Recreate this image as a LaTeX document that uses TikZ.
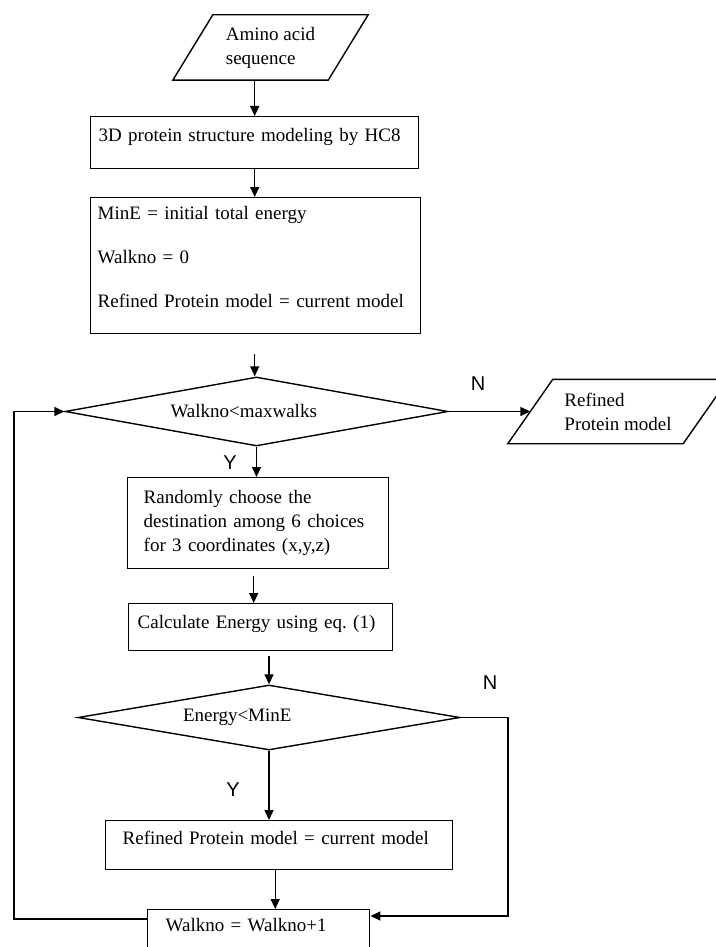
\documentclass[tikz,border=0pt]{standalone}
\usepackage{fontspec}
\setmainfont{Liberation Serif}
\newfontfamily\ynfont{Liberation Sans}
\usetikzlibrary{arrows.meta,shapes.geometric}
\frenchspacing

\begin{document}
\begin{tikzpicture}[x=1pt,y=-1pt,
  every node/.style={font=\fontsize{19}{24}\selectfont},
  procbox/.style={draw,rectangle,line width=1.4pt,anchor=north west,align=left,inner ysep=0pt},
  decision/.style={draw,diamond,line width=1.4pt,inner sep=0pt,text width=172pt,align=left},
  iobox/.style={rectangle,inner sep=0pt,align=left},
  ioline/.style={line width=1.4pt,line join=miter},
  yn/.style={font=\ynfont\fontsize{20}{24}\selectfont},
  arr/.style={-{Triangle[length=10pt,width=9pt]},line width=1.4pt}]
\useasboundingbox (0,0) rectangle (715,947);

\node[iobox,minimum width=155pt,minimum height=65pt] (amino) at (270.5,47.5) {Amino acid\\sequence};
\draw[ioline] ([xshift=20pt]amino.north west) -- ([xshift=20pt]amino.north east) -- ([xshift=-20pt]amino.south east) -- ([xshift=-20pt]amino.south west) -- cycle;

\node[procbox,inner xsep=8pt,text width=312pt,text height=25pt,text depth=27pt] (hc) at (90,116) {3D protein structure modeling by HC8};
\node[procbox,inner xsep=7pt,text width=316pt,text height=22pt,text depth=114pt] (init) at (90,197) {MinE = initial total energy\\[20pt]Walkno = 0\\[20pt]Refined Protein model = current model};

\node[decision,minimum width=383pt,minimum height=69pt,aspect=5.55] (walkno) at (256.5,411.5) {Walkno<maxwalks};
\node[yn] (n1) at (478,384) {N};
\node[iobox,minimum width=175pt,minimum height=64pt] (refout) at (618,411.5) {Refined\\Protein model};
\draw[ioline] ([xshift=22.5pt]refout.north west) -- ([xshift=22.5pt]refout.north east) -- ([xshift=-22.5pt]refout.south east) -- ([xshift=-22.5pt]refout.south west) -- cycle;
\node[yn] (y1) at (230,463) {Y};

\node[procbox,inner xsep=16pt,text width=229pt,text height=26pt,text depth=65pt] (rand) at (127,477) {Randomly choose the\\destination among 6 choices\\for 3 coordinates (x,y,z)};
\node[procbox,inner xsep=9pt,text width=246pt,text height=25pt,text depth=22pt] (calc) at (128,603) {Calculate Energy using eq. (1)};

\node[decision,minimum width=382pt,minimum height=65pt,aspect=5.88] (energy) at (269,717.5) {Energy<MinE};
\node[yn] (n2) at (490,683) {N};
\node[yn] (y2) at (233,790) {Y};

\node[procbox,inner xsep=17pt,text width=313pt,text height=24pt,text depth=25pt] (update) at (105,820) {Refined Protein model = current model};
\node[procbox,inner xsep=18pt,text width=186pt,text height=22pt,text depth=27pt] (walkinc) at (147,909) {Walkno = Walkno+1};

\coordinate (nturn) at (508,916);
\coordinate (loopturn) at (14,919);

\draw[arr] (amino.south -| hc.north) -- (hc.north);
\draw[arr] (hc.south) -- (init.north -| hc.south);
\draw[arr,shorten <=20pt] (init.south -| hc.south) -- (walkno.north -| hc.south);
\draw[arr] (walkno.east) -- (refout.west);
\draw[arr] (walkno.south) -- (walkno.south |- rand.north);
\draw[arr,shorten <=7pt] ([xshift=-4.5pt]rand.south) -- ([xshift=-4.5pt]rand.south |- calc.north);
\draw[arr,shorten <=5pt] (calc.south -| energy.north) -- (energy.north);
\draw[arr] (energy.south) -- (energy.south |- update.north);
\draw[arr] ([xshift=-4pt]update.south) -- ([xshift=-4pt]update.south |- walkinc.north);
\draw[arr] (energy.east) -| (nturn) -- (nturn -| walkinc.east);
\draw[arr] (loopturn -| walkinc.west) -- (loopturn) |- (walkno.west);
\end{tikzpicture}
\end{document}
